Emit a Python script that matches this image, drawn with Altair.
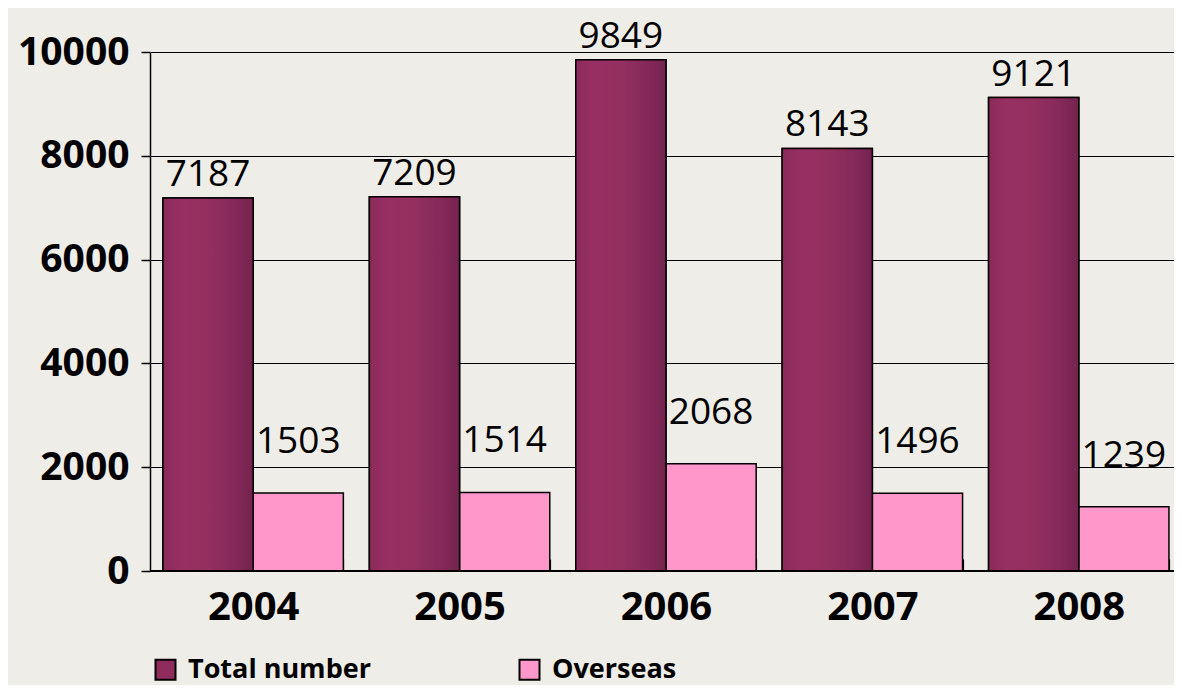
import altair as alt
import pandas as pd

years = ["2004", "2005", "2006", "2007", "2008"]
total = [7187, 7209, 9849, 8143, 9121]
overseas = [1503, 1514, 2068, 1496, 1239]
series = ["Total number", "Overseas"]
y_ticks = [0, 2000, 4000, 6000, 8000, 10000]

rows = []
for i, yr in enumerate(years):
    rows.append({"year": yr, "series": series[0], "value": total[i]})
    rows.append({"year": yr, "series": series[1], "value": overseas[i]})
df = pd.DataFrame(rows)

FONT = "Open Sans"
MAROON = "#8E2C5C"
PINK = "#FF97CB"

x = alt.X(
    "year:N",
    scale=alt.Scale(domain=years, paddingInner=0.126, paddingOuter=0.0436, align=0.72),
    axis=alt.Axis(
        title=None, labelAngle=0, labelFont=FONT, labelFontWeight="bold",
        labelFontSize=40, labelColor="black", domain=False, ticks=True,
        tickBand="extent", tickSize=12, tickColor="black", tickWidth=1.2,
        offset=-12, labelPadding=16, grid=False,
    ),
)
xo = alt.XOffset("series:N", scale=alt.Scale(domain=series, paddingInner=0, paddingOuter=0))
y = alt.Y(
    "value:Q",
    scale=alt.Scale(domain=[0, 10000], nice=False),
    axis=alt.Axis(
        title=None, values=y_ticks, format="d", labelFont=FONT, labelFontWeight="bold",
        labelFontSize=39, labelColor="black", tickSize=9, tickColor="black",
        tickWidth=1.5, domainColor="black", domainWidth=1.5, grid=True,
        gridColor="black", gridWidth=1.2, gridOpacity=1, labelPadding=12,
    ),
)

base = alt.Chart(df)

bars = base.mark_bar(stroke="black", strokeWidth=1.5).encode(
    x=x, xOffset=xo, y=y,
    color=alt.Color(
        "series:N",
        scale=alt.Scale(domain=series, range=[MAROON, PINK]),
        legend=alt.Legend(
            title=None, orient="none", legendX=2, legendY=604,
            direction="horizontal", columns=2, symbolType="square",
            symbolSize=400, symbolStrokeColor="black", symbolStrokeWidth=2,
            symbolOpacity=1, labelFont=FONT, labelFontWeight="bold",
            labelFontSize=27, labelColor="black", columnPadding=144,
            labelOffset=9, padding=0, labelLimit=400,
        ),
    ),
)

grad = alt.Gradient(
    gradient="linear", x1=0, x2=1, y1=0, y2=0,
    stops=[
        alt.GradientStop(color="#8A2B5A", offset=0),
        alt.GradientStop(color="#982F63", offset=0.2),
        alt.GradientStop(color="#93305F", offset=0.5),
        alt.GradientStop(color="#84295A", offset=0.8),
        alt.GradientStop(color="#74234D", offset=1),
    ],
)

total_bars = base.transform_filter(alt.datum.series == "Total number").mark_bar(
    fill=grad, stroke="black", strokeWidth=1.5
).encode(x=x, xOffset=xo, y=y)

text_total = base.transform_filter(alt.datum.series == "Total number").mark_text(
    baseline="bottom", dy=-4, fontSize=37, font=FONT, color="black"
).encode(x=x, xOffset=xo, y=y, text=alt.Text("value:Q", format="d"))

text_over = base.transform_filter(alt.datum.series == "Overseas").mark_text(
    baseline="bottom", dy=-32, fontSize=37, font=FONT, color="black"
).encode(x=x, xOffset=xo, y=y, text=alt.Text("value:Q", format="d"))

baseline = alt.Chart(pd.DataFrame({"v": [0]})).mark_rule(color="black", strokeWidth=2.2).encode(
    y=alt.Y("v:Q", scale=alt.Scale(domain=[0, 10000], nice=False))
)

chart = alt.layer(bars, total_bars, text_total, text_over, baseline).properties(
    width=1024, height=519,
    padding={"left": 142, "top": 44, "right": 0, "bottom": 114},
    autosize=alt.AutoSizeParams(type="none"),
    background="#EFEDE7",
).configure_view(strokeWidth=0)

chart.save("out.html", embed_options={"renderer": "svg", "actions": False})
